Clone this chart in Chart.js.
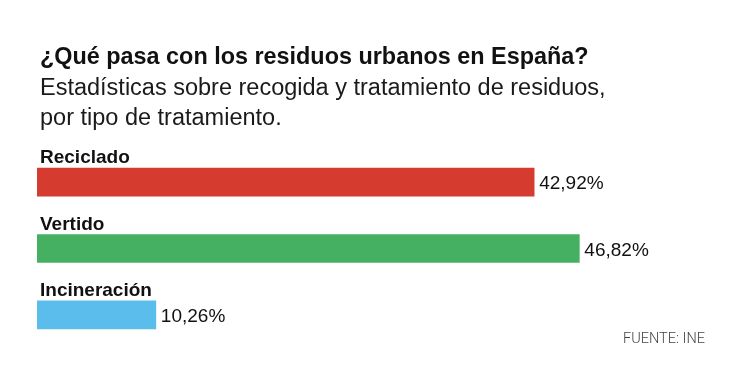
<!DOCTYPE html>
<html><head><meta charset="utf-8">
<script src="https://cdn.jsdelivr.net/npm/chart.js@4.4.1/dist/chart.umd.min.js"></script>
<style>html,body{margin:0;padding:0;background:#fff}#wrap{width:750px;height:373px;position:relative}</style>
</head><body><div id="wrap"><canvas id="c" width="750" height="373"></canvas></div>
<script>
const categories = ["Reciclado", "Vertido", "Incineración"];
const values = [42.92, 46.82, 10.26];
const valueLabels = ["42,92%", "46,82%", "10,26%"];
const colors = ["#D63B2F", "#46B062", "#5BBDEB"];
const titleText = "¿Qué pasa con los residuos urbanos en España?";
const subtitleLines = ["Estadísticas sobre recogida y tratamiento de residuos,", "por tipo de tratamiento."];
const sourceText = "FUENTE: INE";

const FONT = '"Liberation Sans", Arial, Helvetica, sans-serif';

const labelPlugin = {
  id: 'labels',
  afterDraw(chart) {
    const ctx = chart.ctx;
    const meta = chart.getDatasetMeta(0);
    ctx.save();
    ctx.textBaseline = 'alphabetic';
    ctx.textAlign = 'left';
    ctx.fillStyle = '#111';
    ctx.font = 'bold 23.4px ' + FONT;
    ctx.fillText(titleText, 40, 64);
    ctx.font = '23.5px ' + FONT;
    ctx.fillStyle = '#1a1a1a';
    ctx.fillText(subtitleLines[0], 40, 95);
    ctx.fillText(subtitleLines[1], 40, 125);
    meta.data.forEach((bar, i) => {
      const top = bar.y - bar.height / 2;
      ctx.font = 'bold 19px ' + FONT;
      ctx.fillStyle = '#111';
      ctx.textBaseline = 'alphabetic';
      ctx.fillText(categories[i], chart.chartArea.left + 3, top - 5);
      ctx.font = '19px ' + FONT;
      ctx.textBaseline = 'middle';
      ctx.fillText(valueLabels[i], bar.x + 5, bar.y + 2);
    });
    ctx.textBaseline = 'alphabetic';
    ctx.textAlign = 'right';
    ctx.font = '300 14.5px Roboto, ' + FONT;
    ctx.fillStyle = '#444';
    ctx.fillText(sourceText, 705, 343);
    ctx.restore();
  }
};

new Chart(document.getElementById('c'), {
  type: 'bar',
  data: {
    labels: categories,
    datasets: [{ data: values, backgroundColor: colors, borderWidth: 0, barThickness: 28 }]
  },
  options: {
    indexAxis: 'y',
    responsive: false,
    animation: false,
    layout: { padding: { left: 37, right: 18, top: 149, bottom: 25 } },
    plugins: { legend: { display: false }, tooltip: { enabled: false }, title: { display: false } },
    scales: {
      x: { display: false, min: 0, max: 60 },
      y: { display: false }
    }
  },
  plugins: [labelPlugin]
});
</script></body></html>
